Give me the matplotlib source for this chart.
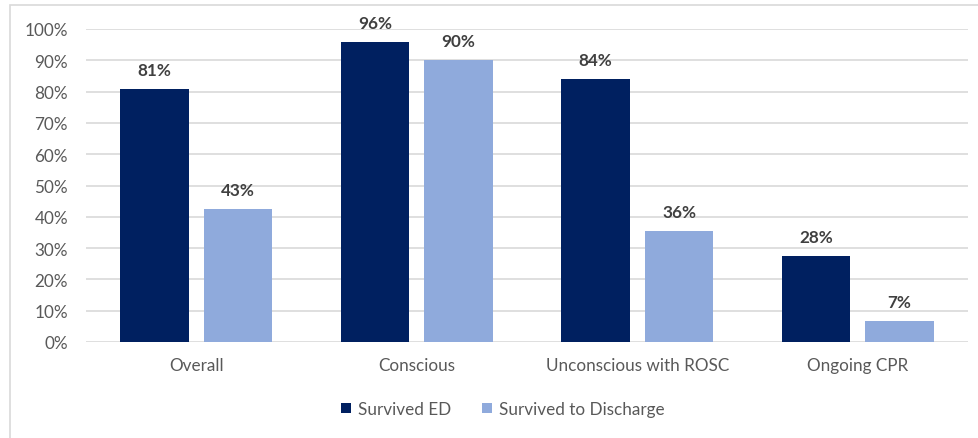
import numpy as np
import matplotlib.pyplot as plt
from matplotlib.patches import Rectangle
from matplotlib.ticker import PercentFormatter

categories = ["Overall", "Conscious", "Unconscious with ROSC", "Ongoing CPR"]
survived_ed = [80.9, 95.8, 83.9, 27.5]
survived_discharge = [42.6, 90.2, 35.5, 6.7]
ed_labels = ["81%", "96%", "84%", "28%"]
discharge_labels = ["43%", "90%", "36%", "7%"]

dark = "#002060"
light = "#8FAADC"
grey = "#595959"

plt.rcParams['font.family'] = ['Lato', 'DejaVu Sans']

fig = plt.figure(figsize=(9.79, 4.39), dpi=100)
ax = fig.add_axes([86/979, 1-343/439, (968-86)/979, (343-30)/439])

# light border round the chart area
fig.patches.append(Rectangle((10/979, -0.1), 1.1, 1-6/439+0.1, transform=fig.transFigure,
                             fill=False, edgecolor="#D9D9D9", linewidth=1.2))

x = np.arange(len(categories))
w = 0.31
off = 0.19
b1 = ax.bar(x - off, survived_ed, w, color=dark, label="Survived ED", zorder=3)
b2 = ax.bar(x + off, survived_discharge, w, color=light, label="Survived to Discharge", zorder=3)

for bars, labs in ((b1, ed_labels), (b2, discharge_labels)):
    for r, t in zip(bars, labs):
        ax.annotate(t, (r.get_x() + r.get_width()/2, r.get_height()), xytext=(0, 8),
                    textcoords="offset points", ha="center", va="bottom",
                    fontsize=12.3, fontweight="bold", color="#404040")

ax.set_xlim(-0.5, len(categories) - 0.5)
ax.set_ylim(0, 100)
ax.set_yticks(np.arange(0, 101, 10))
ax.yaxis.set_major_formatter(PercentFormatter(decimals=0))
ax.set_xticks(x)
ax.set_xticklabels(categories)
ax.tick_params(axis="both", length=0, labelsize=12.3, colors=grey)
ax.tick_params(axis="x", pad=11)
ax.tick_params(axis="y", pad=13)
ax.grid(axis="y", color="#D9D9D9", linewidth=1.2, zorder=0)
for s in ax.spines.values():
    s.set_visible(False)

fig.legend(handles=[b1, b2], loc="center", bbox_to_anchor=(503/979, 1-410/439), ncol=2,
           frameon=False, fontsize=12.3, labelcolor=grey, handlelength=0.6, handleheight=0.6,
           handletextpad=0.4, columnspacing=1.8)

fig.savefig("out.png", dpi=100)
